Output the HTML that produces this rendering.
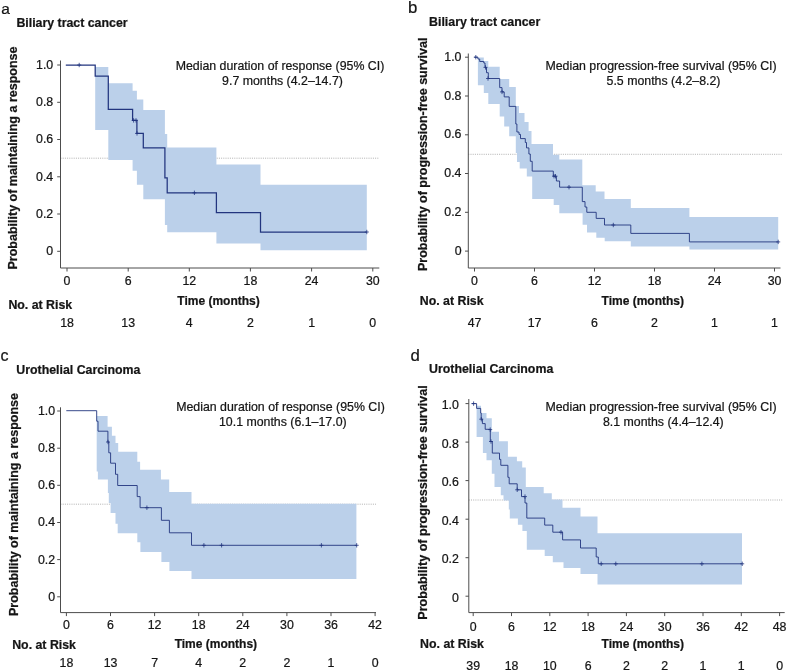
<!DOCTYPE html>
<html lang="en"><head><meta charset="utf-8"><title>Kaplan-Meier figure</title>
<style>
html,body{margin:0;padding:0;background:#fff;}
svg{display:block}
text{font-family:"Liberation Sans", Arial, Helvetica, sans-serif;font-size:12.35px;fill:#151515;stroke:#151515;stroke-width:0.22px;}
</style></head>
<body>
<svg width="787" height="671" viewBox="0 0 787 671">
<rect width="787" height="671" fill="#ffffff"/>
<line x1="60.5" y1="158.2" x2="378.5" y2="158.2" stroke="#a8a8a8" stroke-width="0.9" stroke-dasharray="1 1.2"/>
<path d="M95.2,67.0H108.3V83.3H132.6V90.7H136.9V99.6H143.3V110.0H164.9V134.0H167.2V147.6H216.4V164.6H260.5V184.8H366.8V250.3H260.5V243.6H216.4V232.3H167.2V225.0H164.9V199.2H143.3V184.7H136.9V170.7H132.6V160.0H108.3V130.0H95.2Z" fill="#bbd0ea"/>
<path d="M65.8,65.0H95.2V76.0H108.3V109.3H132.6V120.4H136.9V133.4H143.3V147.8H164.9V177.8H167.2V192.8H216.4V212.6H260.5V232.0H366.8" fill="none" stroke="#22357f" stroke-width="1.25" stroke-linejoin="miter"/>
<path d="M79.2,62.8V67.2M77.2,65.0H81.2M133.6,118.2V122.6M131.6,120.4H135.6M136.0,118.2V122.6M134.0,120.4H138.0M137.0,131.2V135.6M135.0,133.4H139.0M194.4,190.6V195.0M192.4,192.8H196.4M366.8,229.8V234.2M364.8,232.0H368.8" stroke="#22357f" stroke-width="0.8" fill="none"/>
<path d="M60.5,60.5V268H379.3M57.2,65.0H60.5M57.2,102.3H60.5M57.2,139.5H60.5M57.2,176.8H60.5M57.2,214.0H60.5M57.2,251.3H60.5M67.0,268V271.5M128.2,268V271.5M189.3,268V271.5M250.4,268V271.5M311.6,268V271.5M372.8,268V271.5" fill="none" stroke="#4d4d4d" stroke-width="1"/>
<text x="53.2" y="68.7" text-anchor="end">1.0</text>
<text x="53.2" y="106.0" text-anchor="end">0.8</text>
<text x="53.2" y="143.2" text-anchor="end">0.6</text>
<text x="53.2" y="180.5" text-anchor="end">0.4</text>
<text x="53.2" y="217.7" text-anchor="end">0.2</text>
<text x="53.2" y="255.0" text-anchor="end">0</text>
<text x="67.0" y="284.8" text-anchor="middle">0</text>
<text x="128.2" y="284.8" text-anchor="middle">6</text>
<text x="189.3" y="284.8" text-anchor="middle">12</text>
<text x="250.4" y="284.8" text-anchor="middle">18</text>
<text x="311.6" y="284.8" text-anchor="middle">24</text>
<text x="372.8" y="284.8" text-anchor="middle">30</text>
<text x="67.0" y="327.3" text-anchor="middle">18</text>
<text x="128.2" y="327.3" text-anchor="middle">13</text>
<text x="189.3" y="327.3" text-anchor="middle">4</text>
<text x="250.4" y="327.3" text-anchor="middle">2</text>
<text x="311.6" y="327.3" text-anchor="middle">1</text>
<text x="372.8" y="327.3" text-anchor="middle">0</text>
<text x="1.3" y="13.6" style="font-size:15.5px">a</text>
<text x="16.4" y="26.5" font-weight="bold">Biliary tract cancer</text>
<text x="8.4" y="309" font-weight="bold">No. at Risk</text>
<text x="218.5" y="304.5" font-weight="bold" style="font-size:12px" text-anchor="middle">Time (months)</text>
<text transform="translate(16.5,158) rotate(-90)" font-weight="bold" style="font-size:12.5px" text-anchor="middle">Probability of maintaining a response</text>
<text x="280" y="69.8" text-anchor="middle">Median duration of response (95% CI)</text>
<text x="282.5" y="84.8" text-anchor="middle">9.7 months (4.2–14.7)</text>
<line x1="468.3" y1="154.3" x2="782.7" y2="154.3" stroke="#a8a8a8" stroke-width="0.9" stroke-dasharray="1 1.2"/>
<path d="M477.9,57.4H483.8V61.0H488.3V66.8H499.7V79.0H509.2V87.0H515.8V106.0H519.0V113.0H524.5V122.0H528.6V131.0H531.5V144.0H553.0V154.7H559.3V159.5H582.3V185.3H595.7V191.5H604.5V199.0H630.8V208.1H689.4V217.1H778.2V249.4H689.4V246.4H630.8V241.3H604.7V237.8H596.3V232.5H587.0V224.8H582.6V213.2H559.3V205.0H553.7V198.9H532.2V176.5H526.8V168.5H519.7V162.0H517.0V153.0H515.8V136.2H509.2V126.4H504.2V116.5H499.7V104.0H488.3V93.0H483.8V85.3H477.9Z" fill="#bbd0ea"/>
<path d="M474.3,57.2H477.9V59.0H479.7V61.5H483.8V63.0H485.0V67.4H486.5V72.7H488.3V78.5H499.7V87.6H502.0V91.9H504.2V96.9H509.2V106.4H515.8V124.0H516.9V132.0H519.0V134.4H520.5V138.6H525.3V142.5H526.5V147.9H528.9V154.0H530.3V161.3H532.2V171.1H553.3V176.2H556.4V181.0H559.6V187.2H582.3V201.6H585.0V207.0H586.8V212.3H596.2V218.4H604.5V225.0H630.8V233.4H689.4V241.9H778.2" fill="none" stroke="#22357f" stroke-width="0.9" stroke-linejoin="miter"/>
<path d="M475.8,55.0V59.4M473.8,57.2H477.8M485.5,65.2V69.6M483.5,67.4H487.5M488.0,76.3V80.7M486.0,78.5H490.0M502.0,89.7V94.1M500.0,91.9H504.0M554.0,174.0V178.4M552.0,176.2H556.0M555.5,174.0V178.4M553.5,176.2H557.5M569.0,185.0V189.4M567.0,187.2H571.0M613.3,222.8V227.2M611.3,225.0H615.3M778.2,239.7V244.1M776.2,241.9H780.2" stroke="#22357f" stroke-width="0.8" fill="none"/>
<path d="M468.3,53.5V268H780.5M465.0,57.2H468.3M465.0,96.0H468.3M465.0,134.8H468.3M465.0,173.5H468.3M465.0,212.3H468.3M465.0,251.1H468.3M474.5,268V271.5M534.5,268V271.5M594.5,268V271.5M654.5,268V271.5M714.5,268V271.5M774.5,268V271.5" fill="none" stroke="#4d4d4d" stroke-width="1"/>
<text x="461.5" y="60.7" text-anchor="end">1.0</text>
<text x="461.5" y="99.5" text-anchor="end">0.8</text>
<text x="461.5" y="138.3" text-anchor="end">0.6</text>
<text x="461.5" y="177.0" text-anchor="end">0.4</text>
<text x="461.5" y="215.8" text-anchor="end">0.2</text>
<text x="461.5" y="254.6" text-anchor="end">0</text>
<text x="474.5" y="284.6" text-anchor="middle">0</text>
<text x="534.5" y="284.6" text-anchor="middle">6</text>
<text x="594.5" y="284.6" text-anchor="middle">12</text>
<text x="654.5" y="284.6" text-anchor="middle">18</text>
<text x="714.5" y="284.6" text-anchor="middle">24</text>
<text x="774.5" y="284.6" text-anchor="middle">30</text>
<text x="474.5" y="327.3" text-anchor="middle">47</text>
<text x="534.5" y="327.3" text-anchor="middle">17</text>
<text x="594.5" y="327.3" text-anchor="middle">6</text>
<text x="654.5" y="327.3" text-anchor="middle">2</text>
<text x="714.5" y="327.3" text-anchor="middle">1</text>
<text x="774.5" y="327.3" text-anchor="middle">1</text>
<text x="408.1" y="13.4" style="font-size:16.8px">b</text>
<text x="429.1" y="26.4" font-weight="bold">Biliary tract cancer</text>
<text x="419.8" y="304.5" font-weight="bold">No. at Risk</text>
<text x="642.8" y="304.5" font-weight="bold" style="font-size:12px" text-anchor="middle">Time (months)</text>
<text transform="translate(426.9,154.3) rotate(-90)" font-weight="bold" style="font-size:12.5px" text-anchor="middle">Probability of progression-free survival</text>
<text x="661" y="69.8" text-anchor="middle">Median progression-free survival (95% CI)</text>
<text x="663.5" y="84.8" text-anchor="middle">5.5 months (4.2–8.2)</text>
<line x1="60.5" y1="504.2" x2="376" y2="504.2" stroke="#a8a8a8" stroke-width="0.9" stroke-dasharray="1 1.2"/>
<path d="M96.7,416.1H107.6V426.8H111.9V435.8H115.5V442.9H118.2V451.7H137.3V461.7H140.1V469.8H160.9V479.5H169.2V492.0H191.5V503.7H356.4V578.9H191.5V570.9H169.4V561.9H161.4V551.9H140.4V542.3H137.3V533.3H117.7V523.8H115.5V513.1H110.6V503.0H108.8V493.0H107.9V479.6H97.9V471.6H96.7Z" fill="#bbd0ea"/>
<path d="M66.3,410.7H96.7V421.2H98.0V431.2H107.9V442.0H108.8V452.8H110.6V463.2H115.5V474.3H117.7V485.5H137.2V496.6H140.1V507.7H161.4V520.3H169.4V532.8H191.5V545.3H356.7" fill="none" stroke="#22357f" stroke-width="0.9" stroke-linejoin="miter"/>
<path d="M108.0,439.8V444.2M106.0,442.0H110.0M146.9,505.5V509.9M144.9,507.7H148.9M203.9,543.1V547.5M201.9,545.3H205.9M221.6,543.1V547.5M219.6,545.3H223.6M321.4,543.1V547.5M319.4,545.3H323.4M356.7,543.1V547.5M354.7,545.3H358.7" stroke="#22357f" stroke-width="0.8" fill="none"/>
<path d="M60.5,407.3V612.6H376M57.2,411.0H60.5M57.2,448.2H60.5M57.2,485.3H60.5M57.2,522.5H60.5M57.2,559.6H60.5M57.2,596.8H60.5M66.4,612.6V616.1M110.5,612.6V616.1M154.6,612.6V616.1M198.7,612.6V616.1M242.8,612.6V616.1M286.9,612.6V616.1M331.0,612.6V616.1M375.1,612.6V616.1" fill="none" stroke="#4d4d4d" stroke-width="1"/>
<text x="55.1" y="414.9" text-anchor="end">1.0</text>
<text x="55.1" y="452.1" text-anchor="end">0.8</text>
<text x="55.1" y="489.2" text-anchor="end">0.6</text>
<text x="55.1" y="526.4" text-anchor="end">0.4</text>
<text x="55.1" y="563.5" text-anchor="end">0.2</text>
<text x="55.1" y="600.7" text-anchor="end">0</text>
<text x="66.4" y="628.6" text-anchor="middle">0</text>
<text x="110.5" y="628.6" text-anchor="middle">6</text>
<text x="154.6" y="628.6" text-anchor="middle">12</text>
<text x="198.7" y="628.6" text-anchor="middle">18</text>
<text x="242.8" y="628.6" text-anchor="middle">24</text>
<text x="286.9" y="628.6" text-anchor="middle">30</text>
<text x="331.0" y="628.6" text-anchor="middle">36</text>
<text x="375.1" y="628.6" text-anchor="middle">42</text>
<text x="66.4" y="666.6" text-anchor="middle">18</text>
<text x="110.5" y="666.6" text-anchor="middle">13</text>
<text x="154.6" y="666.6" text-anchor="middle">7</text>
<text x="198.7" y="666.6" text-anchor="middle">4</text>
<text x="242.8" y="666.6" text-anchor="middle">2</text>
<text x="286.9" y="666.6" text-anchor="middle">2</text>
<text x="331.0" y="666.6" text-anchor="middle">1</text>
<text x="375.1" y="666.6" text-anchor="middle">0</text>
<text x="0.5" y="360.8" style="font-size:16px">c</text>
<text x="16.3" y="373.5" font-weight="bold">Urothelial Carcinoma</text>
<text x="12.2" y="648.5" font-weight="bold">No. at Risk</text>
<text x="215.9" y="648.3" font-weight="bold" style="font-size:12px" text-anchor="middle">Time (months)</text>
<text transform="translate(18.3,504.5) rotate(-90)" font-weight="bold" style="font-size:12.5px" text-anchor="middle">Probability of maintaining a response</text>
<text x="280.5" y="411" text-anchor="middle">Median duration of response (95% CI)</text>
<text x="282.8" y="426" text-anchor="middle">10.1 months (6.1–17.0)</text>
<line x1="468.8" y1="500" x2="782.7" y2="500" stroke="#a8a8a8" stroke-width="0.9" stroke-dasharray="1 1.2"/>
<path d="M476.6,405.7H481.0V412.9H486.5V418.3H491.8V431.7H499.0V441.2H507.9V456.7H516.9V461.2H522.2V467.5H525.8V487.0H543.7V493.2H551.8V499.5H562.5V507.7H580.5V516.5H597.5V533.3H742.0V584.6H597.5V573.9H580.5V568.0H563.5V562.3H552.8V556.0H544.7V549.8H526.8V531.0H522.4V524.7H517.9V518.5H509.8V509.5H508.8V500.5H503.5V495.2H500.8V487.1H494.5V473.7H491.8V460.3H486.5V453.1H482.9V437.0H476.6Z" fill="#bbd0ea"/>
<path d="M471.7,403.6H476.6V408.4H480.7V413.0H481.2V419.2H482.4V423.6H485.2V429.3H490.3V441.5H492.3V453.1H499.5V459.4H500.8V465.3H507.9V477.3H509.2V483.8H517.2V489.8H521.5V496.6H525.0V503.0H526.8V518.1H544.7V525.1H552.8V532.2H562.6V539.9H580.5V548.0H596.2V557.0H598.3V563.8H742.2" fill="none" stroke="#22357f" stroke-width="0.9" stroke-linejoin="miter"/>
<path d="M473.6,401.4V405.8M471.6,403.6H475.6M481.3,417.0V421.4M479.3,419.2H483.3M490.2,427.4V431.8M488.2,429.6H492.2M491.0,439.3V443.7M489.0,441.5H493.0M517.2,487.6V492.0M515.2,489.8H519.2M525.0,494.4V498.8M523.0,496.6H527.0M561.0,530.0V534.4M559.0,532.2H563.0M601.2,561.6V566.0M599.2,563.8H603.2M615.8,561.6V566.0M613.8,563.8H617.8M701.9,561.6V566.0M699.9,563.8H703.9M742.2,561.6V566.0M740.2,563.8H744.2" stroke="#22357f" stroke-width="0.8" fill="none"/>
<path d="M468.8,399V612.6H784.7M465.5,403.6H468.8M465.5,442.1H468.8M465.5,480.6H468.8M465.5,519.2H468.8M465.5,557.7H468.8M465.5,596.2H468.8M473.2,612.6V616.1M511.5,612.6V616.1M549.8,612.6V616.1M588.1,612.6V616.1M626.4,612.6V616.1M664.7,612.6V616.1M703.0,612.6V616.1M741.3,612.6V616.1M779.6,612.6V616.1" fill="none" stroke="#4d4d4d" stroke-width="1"/>
<text x="458.8" y="409.3" text-anchor="end">1.0</text>
<text x="458.8" y="447.8" text-anchor="end">0.8</text>
<text x="458.8" y="486.3" text-anchor="end">0.6</text>
<text x="458.8" y="524.9" text-anchor="end">0.4</text>
<text x="458.8" y="563.4" text-anchor="end">0.2</text>
<text x="458.8" y="601.9" text-anchor="end">0</text>
<text x="473.2" y="630.5" text-anchor="middle">0</text>
<text x="511.5" y="630.5" text-anchor="middle">6</text>
<text x="549.8" y="630.5" text-anchor="middle">12</text>
<text x="588.1" y="630.5" text-anchor="middle">18</text>
<text x="626.4" y="630.5" text-anchor="middle">24</text>
<text x="664.7" y="630.5" text-anchor="middle">30</text>
<text x="703.0" y="630.5" text-anchor="middle">36</text>
<text x="741.3" y="630.5" text-anchor="middle">42</text>
<text x="779.6" y="630.5" text-anchor="middle">48</text>
<text x="473.2" y="669.7" text-anchor="middle">39</text>
<text x="511.5" y="669.7" text-anchor="middle">18</text>
<text x="549.8" y="669.7" text-anchor="middle">10</text>
<text x="588.1" y="669.7" text-anchor="middle">6</text>
<text x="626.4" y="669.7" text-anchor="middle">2</text>
<text x="664.7" y="669.7" text-anchor="middle">2</text>
<text x="703.0" y="669.7" text-anchor="middle">1</text>
<text x="741.3" y="669.7" text-anchor="middle">1</text>
<text x="779.6" y="669.7" text-anchor="middle">0</text>
<text x="410.6" y="360.7" style="font-size:16.8px">d</text>
<text x="429.1" y="373.3" font-weight="bold">Urothelial Carcinoma</text>
<text x="420.1" y="648.2" font-weight="bold">No. at Risk</text>
<text x="642.8" y="647.9" font-weight="bold" style="font-size:12px" text-anchor="middle">Time (months)</text>
<text transform="translate(427,502.5) rotate(-90)" font-weight="bold" style="font-size:12.55px" text-anchor="middle">Probability of progression-free survival</text>
<text x="661" y="411" text-anchor="middle">Median progression-free survival (95% CI)</text>
<text x="663.3" y="426" text-anchor="middle">8.1 months (4.4–12.4)</text>
</svg>
</body></html>
